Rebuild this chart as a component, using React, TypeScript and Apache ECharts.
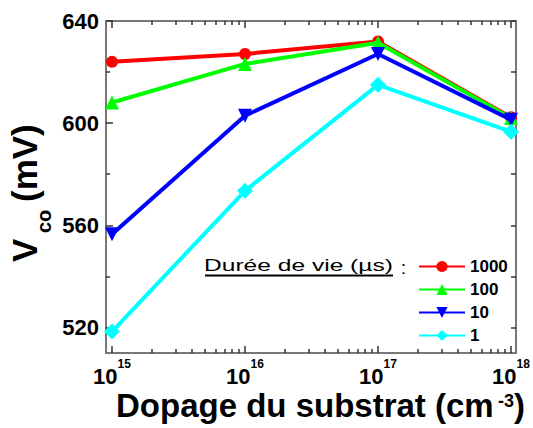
import React, { useEffect, useRef } from "react";
import * as echarts from "echarts";

// ---- data ----
const dopingLevels = [1e15, 1e16, 1e17, 1e18];
const lifetimes = ["1000", "100", "10", "1"];
const vco1000 = [624.0, 627.1, 632.0, 602.3];
const vco100 = [608.1, 623.2, 631.5, 602.0];
const vco10 = [556.5, 602.9, 627.1, 601.3];
const vco1 = [518.4, 573.5, 615.0, 596.6];
const seriesValues = [vco1000, vco100, vco10, vco1];
const seriesColors = ["#ff0000", "#00ff00", "#0000ff", "#00ffff"];
const seriesSymbols = ["circle", "triangle", "triangle", "diamond"];
const seriesSymbolSizes = [12, 14, 14, 16];
const seriesSymbolRotates = [0, 0, 180, 0];

const xMajorTicks = [1e15, 1e16, 1e17, 1e18];
const xMinorDecades = [1e15, 1e16, 1e17];
const xMinorMultipliers = [2, 3, 4, 5, 6, 7, 8, 9];
const yLabelTicks = [520, 560, 600, 640];
const yMinorTicks = [540, 580, 620];
const yAllTicks = [520, 540, 560, 580, 600, 620, 640];

const FONT = "Liberation Sans";

export default function App() {
  const ref = useRef<HTMLDivElement>(null);

  useEffect(() => {
    if (!ref.current) return;
    const chart = echarts.init(ref.current, null, { renderer: "svg" });

    const xMinorTicks: number[] = [];
    xMinorDecades.forEach((d) => xMinorMultipliers.forEach((m) => xMinorTicks.push(d * m)));

    const axisLineColor = "#777";
    const tickColor = "#333";

    const xBase = {
      type: "log" as const,
      logBase: 10,
      min: 9.01e14,
      max: 1.09e18,
      splitLine: { show: false },
    };

    const xAxes = [
      {
        ...xBase,
        position: "bottom",
        axisLine: { show: true, lineStyle: { color: axisLineColor, width: 2 } },
        axisTick: { show: true, inside: true, length: 7, customValues: xMajorTicks, lineStyle: { color: tickColor, width: 1.5 } },
        axisLabel: {
          show: true,
          customValues: xMajorTicks,
          margin: 5,
          formatter: (v: number) => `{b|10}{s|${Math.round(Math.log10(v))}}`,
          rich: {
            b: { fontSize: 22, fontWeight: "bold", fontFamily: FONT, color: "#000", lineHeight: 36 },
            s: { fontSize: 12, fontWeight: "bold", fontFamily: FONT, color: "#000", lineHeight: 10, verticalAlign: "top" },
          },
        },
      },
      {
        ...xBase,
        position: "top",
        axisLine: { show: true, lineStyle: { color: axisLineColor, width: 2 } },
        axisTick: { show: true, inside: true, length: 7, customValues: xMajorTicks, lineStyle: { color: tickColor, width: 1.5 } },
        axisLabel: { show: false },
      },
      {
        ...xBase,
        position: "bottom",
        axisLine: { show: false },
        axisTick: { show: true, inside: true, length: 4, customValues: xMinorTicks, lineStyle: { color: tickColor, width: 1.5 } },
        axisLabel: { show: false },
      },
      {
        ...xBase,
        position: "top",
        axisLine: { show: false },
        axisTick: { show: true, inside: true, length: 4, customValues: xMinorTicks, lineStyle: { color: tickColor, width: 1.5 } },
        axisLabel: { show: false },
      },
    ];

    const yBase = {
      type: "value" as const,
      min: 510,
      max: 640,
      splitLine: { show: false },
    };

    const yAxes = [
      {
        ...yBase,
        position: "left",
        axisLine: { show: true, lineStyle: { color: axisLineColor, width: 2 } },
        axisTick: { show: true, inside: true, length: 7, customValues: yLabelTicks, lineStyle: { color: tickColor, width: 1.5 } },
        axisLabel: {
          show: true,
          customValues: yLabelTicks,
          margin: 7,
          fontSize: 22,
          fontWeight: "bold",
          fontFamily: FONT,
          color: "#000",
        },
      },
      {
        ...yBase,
        position: "left",
        axisLine: { show: false },
        axisTick: { show: true, inside: true, length: 4, customValues: yMinorTicks, lineStyle: { color: tickColor, width: 1.5 } },
        axisLabel: { show: false },
      },
      {
        ...yBase,
        position: "right",
        axisLine: { show: true, lineStyle: { color: axisLineColor, width: 2 } },
        axisTick: { show: true, inside: true, length: 5, customValues: yAllTicks, lineStyle: { color: tickColor, width: 1.5 } },
        axisLabel: { show: false },
      },
    ];

    const series = lifetimes.map((name, i) => ({
      name,
      type: "line",
      xAxisIndex: 0,
      yAxisIndex: 0,
      data: dopingLevels.map((x, j) => [x, seriesValues[i][j]]),
      symbol: seriesSymbols[i],
      symbolSize: seriesSymbolSizes[i],
      symbolRotate: seriesSymbolRotates[i],
      showAllSymbol: true,
      clip: false,
      lineStyle: { color: seriesColors[i], width: 4 },
      itemStyle: { color: seriesColors[i] },
      z: 2 + i,
    }));

    chart.setOption({
      animation: false,
      backgroundColor: "#fff",
      grid: { left: 106, right: 17, top: 21, bottom: 75, containLabel: false },
      xAxis: xAxes,
      yAxis: yAxes,
      legend: {
        data: lifetimes,
        orient: "vertical",
        left: 413,
        top: 253,
        itemWidth: 46,
        itemHeight: 14,
        itemGap: 6,
        selectedMode: false,
        textStyle: { fontSize: 17, fontWeight: "bold", fontFamily: FONT, color: "#000" },
      },
      graphic: [
        {
          type: "text",
          x: 204,
          y: 265,
          scaleX: 1.49,
          style: {
            text: "Durée de vie (µs)",
            fontSize: 16.5,
            fontFamily: FONT,
            fill: "#000",
            align: "left",
            verticalAlign: "middle",
          },
        },
        {
          type: "line",
          shape: { x1: 205, y1: 275.5, x2: 393, y2: 275.5 },
          style: { stroke: "#000", lineWidth: 2 },
        },
        {
          type: "text",
          x: 401,
          y: 268,
          style: { text: ":", fontSize: 18, fontFamily: FONT, fill: "#000", align: "left", verticalAlign: "middle" },
        },
        {
          type: "group",
          x: 37,
          y: 262,
          rotation: Math.PI / 2,
          children: [
            {
              type: "text",
              x: 0,
              y: -12.1,
              style: { text: "V", fontSize: 35, fontWeight: "bold", fontFamily: FONT, fill: "#000", align: "left", verticalAlign: "middle" },
            },
            {
              type: "text",
              x: 29,
              y: 6.5,
              style: { text: "co", fontSize: 20, fontWeight: "bold", fontFamily: FONT, fill: "#000", align: "left", verticalAlign: "middle" },
            },
            {
              type: "text",
              x: 60,
              y: -12.1,
              style: { text: "(mV)", fontSize: 35, fontWeight: "bold", fontFamily: FONT, fill: "#000", align: "left", verticalAlign: "middle" },
            },
          ],
        },
        {
          type: "text",
          x: 116,
          y: 405.5,
          style: { text: "Dopage du substrat (cm", fontSize: 33, fontWeight: "bold", fontFamily: FONT, fill: "#000", align: "left", verticalAlign: "middle" },
        },
        {
          type: "text",
          x: 498,
          y: 400.5,
          style: { text: "-3", fontSize: 18, fontWeight: "bold", fontFamily: FONT, fill: "#000", align: "left", verticalAlign: "middle" },
        },
        {
          type: "text",
          x: 514,
          y: 405.5,
          style: { text: ")", fontSize: 33, fontWeight: "bold", fontFamily: FONT, fill: "#000", align: "left", verticalAlign: "middle" },
        },
      ],
      series,
    });

    return () => chart.dispose();
  }, []);

  return (
    <div
      ref={ref}
      style={{ position: "fixed", left: 0, top: 0, width: 533, height: 428, background: "#fff" }}
    />
  );
}
